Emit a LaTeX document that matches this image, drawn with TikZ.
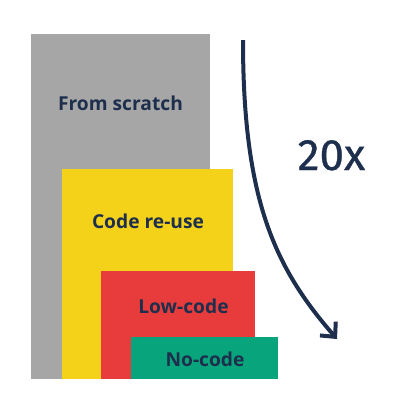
\documentclass[tikz,border=0pt]{standalone}
\usepackage{fontspec}
\setmainfont{Open Sans}
\newfontfamily\bigfont[FakeBold=0.6]{Fira Sans}
\usetikzlibrary{arrows.meta}
\definecolor{cgray}{HTML}{A6A6A6}
\definecolor{cyellow}{HTML}{F4D21A}
\definecolor{cred}{HTML}{E83C3C}
\definecolor{cgreen}{HTML}{08A57C}
\definecolor{navy}{HTML}{1D2F4D}
\begin{document}
\begin{tikzpicture}[x=1pt,y=-1pt,
  lbl/.style={text=navy,font=\fontsize{19.2}{22}\selectfont\bfseries,inner sep=0pt,anchor=base}]
\useasboundingbox (0,0) rectangle (400,400);
\fill[cgray] (31,34) rectangle (210,379);
\fill[cyellow] (62,169) rectangle (233,379);
\fill[cred] (101,271) rectangle (255,379);
\fill[cgreen] (131,337) rectangle (278,379);
\node[lbl] (scratch) at (120.5,110) {From scratch};
\node[lbl] (reuse) at (148,228) {Code re-use};
\node[lbl] (low) at (183.5,313) {Low-code};
\node[lbl] (no) at (205,366) {No-code};
\node[text=navy,font=\bigfont\fontsize{44}{50}\selectfont,inner sep=0pt,anchor=base] (x20) at (331.5,170) {20x};
\coordinate (a) at (243,40);
\coordinate (b) at (337,339);
\draw[navy,line width=4pt,-{Straight Barb[length=11pt,width=21pt]}] (a) .. controls (243,200) and (275,268) .. (b);
\end{tikzpicture}
\end{document}
